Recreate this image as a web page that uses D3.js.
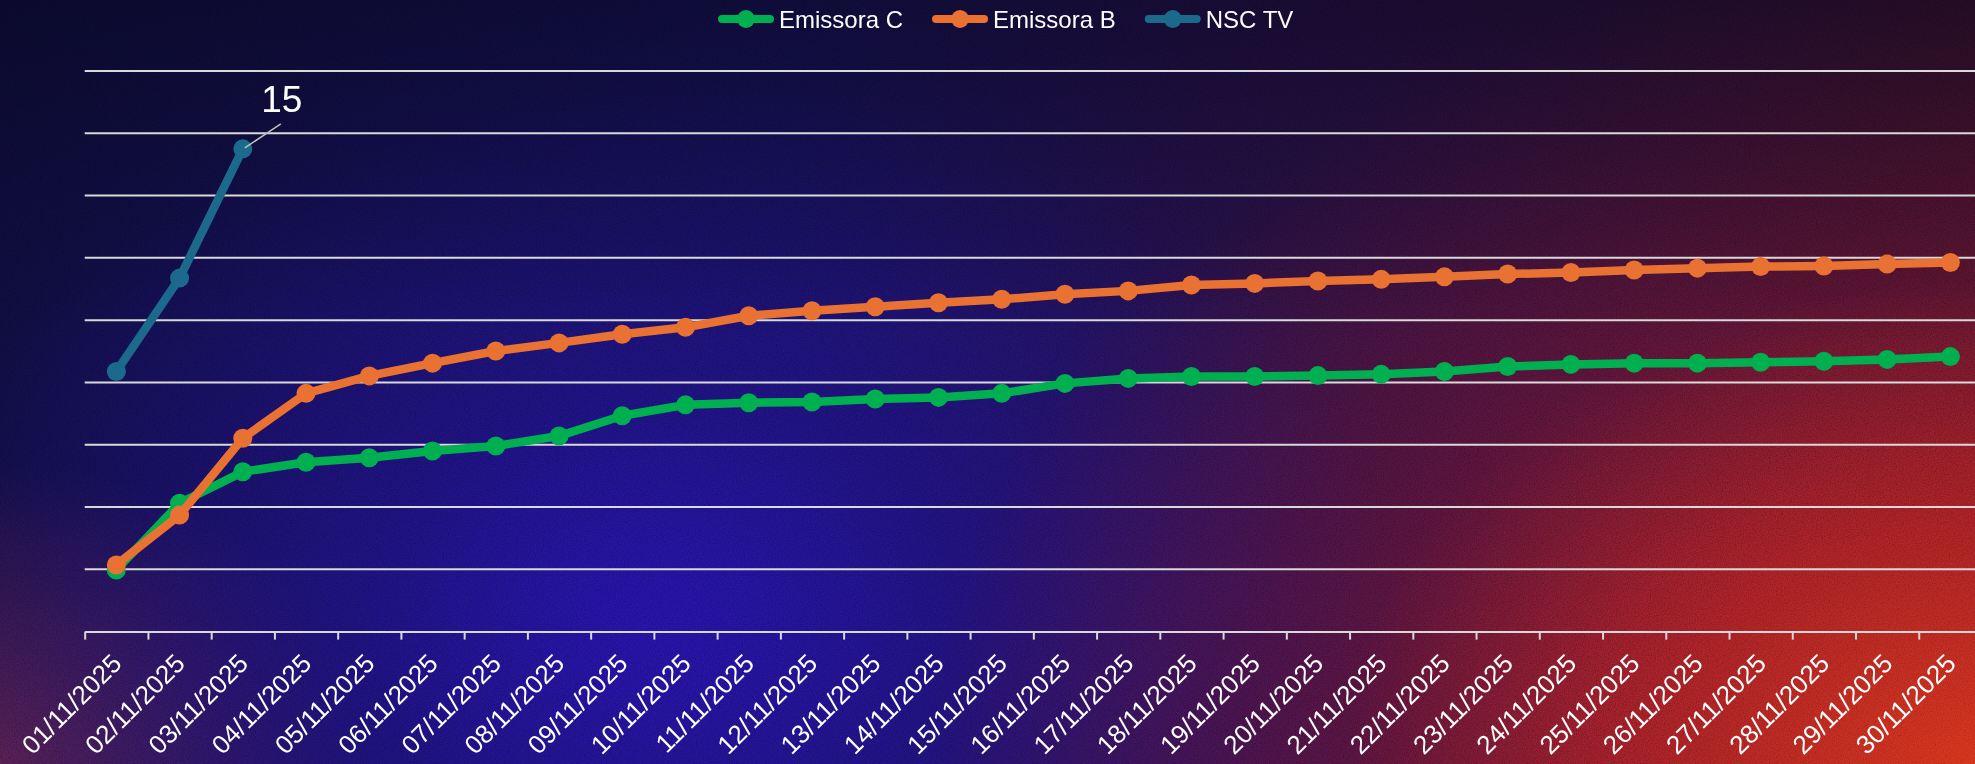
<!DOCTYPE html>
<html>
<head>
<meta charset="utf-8">
<script src="https://cdn.jsdelivr.net/npm/d3@7"></script>
<style>
  html, body { margin: 0; padding: 0; }
  body {
    width: 1975px;
    height: 764px;
    overflow: hidden;
    background:
      linear-gradient(to bottom, rgba(6,5,25,0.55) 0%, rgba(6,5,25,0) 45%),
      radial-gradient(ellipse 1050px 800px at 100% 100%, rgba(200,44,24,1) 0%, rgba(160,30,30,0.85) 30%, rgba(105,18,45,0.5) 60%, rgba(80,16,50,0) 100%),
      radial-gradient(ellipse 760px 600px at 33% 82%, rgba(32,16,140,1) 0%, rgba(28,15,118,0.7) 40%, rgba(24,13,85,0) 100%),
      radial-gradient(ellipse 380px 300px at 0% 100%, rgba(85,30,60,0.9) 0%, rgba(85,30,60,0) 100%),
      linear-gradient(to right, #0d0b35 0%, #130f4a 40%, #260e38 70%, #361022 100%);
  }
  svg { position: absolute; left: 0; top: 0; }
</style>
</head>
<body>
<svg width="1975" height="764"></svg>
<script>
var width = 1975;
var height = 764;

// data
var dates = ["01/11/2025", "02/11/2025", "03/11/2025", "04/11/2025", "05/11/2025", "06/11/2025",
    "07/11/2025", "08/11/2025", "09/11/2025", "10/11/2025", "11/11/2025", "12/11/2025",
    "13/11/2025", "14/11/2025", "15/11/2025", "16/11/2025", "17/11/2025", "18/11/2025",
    "19/11/2025", "20/11/2025", "21/11/2025", "22/11/2025", "23/11/2025", "24/11/2025",
    "25/11/2025", "26/11/2025", "27/11/2025", "28/11/2025", "29/11/2025", "30/11/2025"];
var emissoraC = [1.48, 3.62, 4.63, 4.94, 5.08, 5.30, 5.46, 5.78, 6.43, 6.78, 6.85, 6.87, 6.97, 7.02, 7.15,
    7.47, 7.63, 7.69, 7.69, 7.72, 7.76, 7.85, 8.01, 8.08, 8.12, 8.12, 8.15, 8.18, 8.24, 8.33];
var emissoraB = [1.64, 3.24, 5.71, 7.15, 7.71, 8.12, 8.51, 8.77, 9.05, 9.27, 9.64, 9.80, 9.93, 10.06, 10.17,
    10.33, 10.44, 10.63, 10.68, 10.76, 10.81, 10.89, 10.98, 11.03, 11.11, 11.17, 11.22, 11.24, 11.30, 11.35];
var nscTv = [7.85, 10.85, 15];
var seriesNames = ["Emissora C", "Emissora B", "NSC TV"];
var seriesColors = ["#00b050", "#e97132", "#1b6a8c"];
var yMin = -0.5, yMax = 17.5, yStep = 2;

var series = [emissoraC, emissoraB, nscTv].map(function (vals, i) {
    return { name: seriesNames[i], color: seriesColors[i], values: vals };
});

var svg = d3.select('svg');

// grain over the background
var defs = svg.append("defs");
var noise = defs.append("filter").attr("id", "grain")
    .attr("x", 0).attr("y", 0).attr("width", "100%").attr("height", "100%");
noise.append("feTurbulence").attr("type", "fractalNoise")
    .attr("baseFrequency", 0.85).attr("numOctaves", 2).attr("seed", 3);
noise.append("feColorMatrix").attr("type", "matrix")
    .attr("values", "1 0 0 0 0  1 0 0 0 0  1 0 0 0 0  0 0 0 0 0.45");
svg.append("rect").attr("width", width).attr("height", height)
    .attr("filter", "url(#grain)")
    .style("mix-blend-mode", "overlay");

// scales
var x = d3.scaleBand().domain(dates).range([84.7, 1982]).padding(0);
var xEdge = d3.scaleLinear().domain([0, dates.length]).range(x.range());
var y = d3.scaleLinear().domain([yMin, yMax]).range([631.6, 71]);
function cx(i) { return x(dates[i]) + x.bandwidth() / 2; }

// gridlines
svg.append("g").selectAll("line")
    .data(d3.range(yMin + yStep, yMax + 0.01, yStep))
    .enter().append("line")
    .attr("x1", x.range()[0]).attr("x2", x.range()[1])
    .attr("y1", function (d) { return y(d); })
    .attr("y2", function (d) { return y(d); })
    .attr("stroke", "#d9d9d9").attr("stroke-width", 2);

// x axis, ticks sit between categories
var xAxis = d3.axisBottom(xEdge)
    .tickValues(d3.range(0, dates.length + 1))
    .tickFormat("")
    .tickSize(8)
    .tickSizeOuter(0);
var axisG = svg.append("g")
    .attr("transform", "translate(0," + y(yMin) + ")")
    .call(xAxis);
axisG.select(".domain").attr("stroke", "#d9d9d9").attr("stroke-width", 2);
axisG.selectAll(".tick line").attr("stroke", "#d9d9d9").attr("stroke-width", 2);

svg.append("g").selectAll("text")
    .data(dates)
    .enter().append("text")
    .attr("transform", function (d, i) {
        return "translate(" + (cx(i) + 7) + ",665) rotate(-45)";
    })
    .attr("text-anchor", "end")
    .attr("font-family", "'Liberation Sans', Arial, sans-serif")
    .attr("font-size", "26px")
    .attr("fill", "#ffffff")
    .text(function (d) { return d; });

// lines + markers
var line = d3.line()
    .x(function (d, i) { return cx(i); })
    .y(function (d) { return y(d); });

var seriesG = svg.selectAll(".series")
    .data(series)
    .enter().append("g")
    .attr("class", "series");
seriesG.append("path")
    .attr("d", function (s) { return line(s.values); })
    .attr("fill", "none")
    .attr("stroke", function (s) { return s.color; })
    .attr("stroke-width", 8.5)
    .attr("stroke-linejoin", "round")
    .attr("stroke-linecap", "round");
seriesG.selectAll("circle")
    .data(function (s) { return s.values.map(function (v, i) { return { v: v, i: i, color: s.color }; }); })
    .enter().append("circle")
    .attr("cx", function (d) { return cx(d.i); })
    .attr("cy", function (d) { return y(d.v); })
    .attr("r", 9.5)
    .attr("fill", function (d) { return d.color; });

// data label on the last NSC TV point
var lastI = nscTv.length - 1;
var lx = cx(lastI), ly = y(nscTv[lastI]);
svg.append("line")
    .attr("x1", lx + 2).attr("y1", ly - 1)
    .attr("x2", lx + 38).attr("y2", ly - 25)
    .attr("stroke", "#bfbfbf").attr("stroke-width", 1.5);
svg.append("text")
    .attr("x", lx + 39).attr("y", ly - 37)
    .attr("text-anchor", "middle")
    .attr("font-family", "'Liberation Sans', Arial, sans-serif")
    .attr("font-size", "37px")
    .attr("fill", "#ffffff")
    .text(nscTv[lastI]);

// legend
var legend = svg.append("g");
var lgX = 718;
series.forEach(function (s) {
    var item = legend.append("g").attr("transform", "translate(" + lgX + ",0)");
    item.append("line")
        .attr("x1", 4).attr("x2", 52).attr("y1", 19).attr("y2", 19)
        .attr("stroke", s.color).attr("stroke-width", 8).attr("stroke-linecap", "round");
    item.append("circle").attr("cx", 28).attr("cy", 19).attr("r", 9).attr("fill", s.color);
    var t = item.append("text")
        .attr("x", 61).attr("y", 28)
        .attr("font-family", "'Liberation Sans', Arial, sans-serif")
        .attr("font-size", "24px")
        .attr("fill", "#ffffff")
        .text(s.name);
    lgX += 61 + t.node().getComputedTextLength() + 29;
});
</script>
</body>
</html>
